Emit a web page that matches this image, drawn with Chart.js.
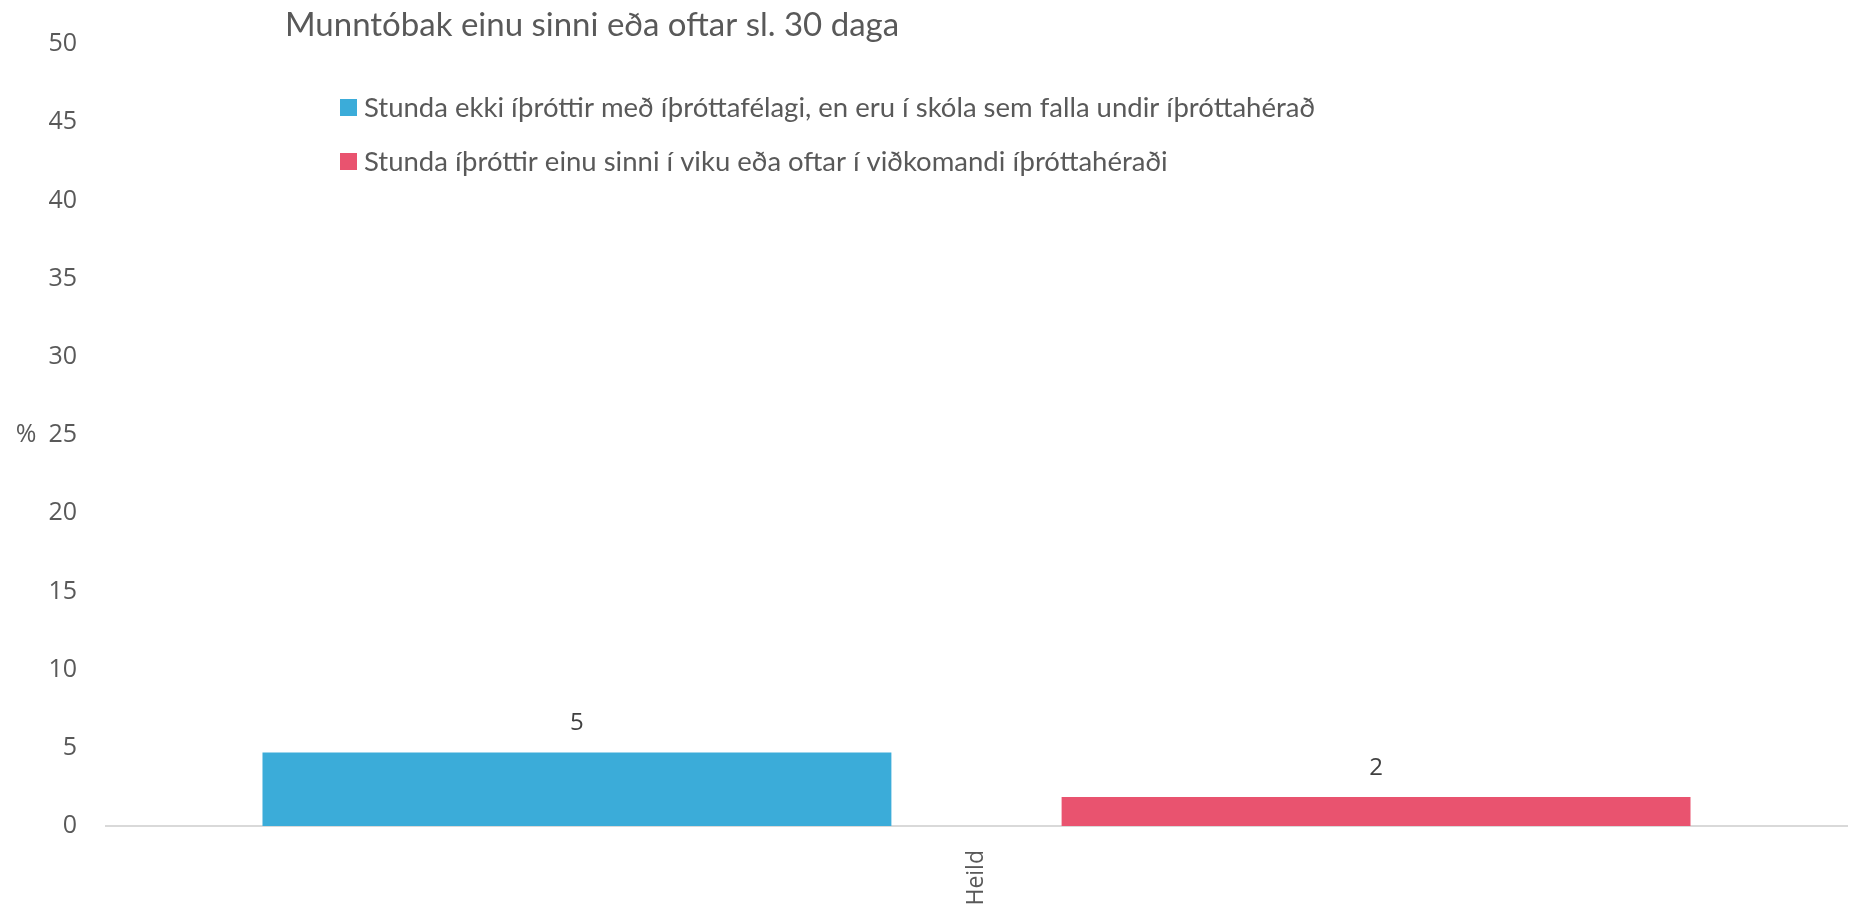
<!DOCTYPE html>
<html>
<head>
<meta charset="utf-8">
<script src="https://cdn.jsdelivr.net/npm/chart.js@4.4.1/dist/chart.umd.min.js"></script>
<style>
  html, body { margin: 0; padding: 0; background: #fff; }
</style>
</head>
<body>
<canvas id="chart" width="1851" height="909"></canvas>
<script>
// chart data
const chartTitle = 'Munntóbak einu sinni eða oftar sl. 30 daga';
const categories = ['Heild'];
const seriesNames = [
    'Stunda ekki íþróttir með íþróttafélagi, en eru í skóla sem falla undir íþróttahérað',
    'Stunda íþróttir einu sinni í viku eða oftar í viðkomandi íþróttahéraði'
];
const notSportsValues = [4.7];
const sportsValues = [1.85];
const yAxisLabel = '%';
const yMin = 0;
const yMax = 50;
const yStep = 5;

const COLORS = ['#3BACD9', '#E9536F'];
const TEXT_COLOR = '#595959';

// title, legend, "%" label and value labels are drawn by hand
const overlayPlugin = {
    id: 'overlay',
    afterDatasetsDraw(chart) {
        const ctx = chart.ctx;
        const yScale = chart.scales.y;
        ctx.save();

        // values above bars
        ctx.fillStyle = '#404040';
        ctx.font = '24px "Open Sans"';
        ctx.textAlign = 'center';
        ctx.textBaseline = 'middle';
        chart.data.datasets.forEach((ds, i) => {
            chart.getDatasetMeta(i).data.forEach((bar, j) => {
                ctx.fillText(Math.round(ds.data[j]), bar.x, bar.y - 29);
            });
        });

        // title
        ctx.fillStyle = TEXT_COLOR;
        ctx.textAlign = 'left';
        ctx.font = '33px Lato';
        ctx.fillText(chartTitle, 285, 25);

        // legend
        ctx.font = '27.5px Lato';
        chart.data.datasets.forEach((ds, i) => {
            const y = 108 + i * 54;
            ctx.fillStyle = ds.backgroundColor;
            ctx.fillRect(340, y - 9, 17, 17);
            ctx.fillStyle = TEXT_COLOR;
            ctx.fillText(ds.label, 364, y);
        });

        // y axis label
        ctx.font = '25px "Open Sans"';
        ctx.textAlign = 'center';
        ctx.fillText(yAxisLabel, 26, yScale.getPixelForValue(25));
        ctx.restore();
    }
};

function initChart() {
    const ctx = document.getElementById('chart').getContext('2d');
    new Chart(ctx, {
        type: 'bar',
        data: {
            labels: categories,
            datasets: [
                { label: seriesNames[0], data: notSportsValues, backgroundColor: COLORS[0] },
                { label: seriesNames[1], data: sportsValues, backgroundColor: COLORS[1] }
            ]
        },
        options: {
            responsive: false,
            animation: false,
            categoryPercentage: 0.918,
            barPercentage: 0.787,
            layout: { padding: { left: 0, top: 37, right: 4, bottom: 0 } },
            plugins: {
                legend: { display: false },
                title: { display: false },
                tooltip: { enabled: false }
            },
            scales: {
                x: {
                    grid: { display: false, drawTicks: false },
                    border: { display: true, color: '#D9D9D9', width: 2 },
                    ticks: {
                        minRotation: 90,
                        maxRotation: 90,
                        padding: 24,
                        color: TEXT_COLOR,
                        font: { family: '"Open Sans"', size: 23 }
                    },
                    afterFit(scale) { scale.height = 83; }
                },
                y: {
                    min: yMin,
                    max: yMax,
                    grid: { display: false, drawTicks: false },
                    border: { display: false },
                    ticks: {
                        stepSize: yStep,
                        padding: 29,
                        color: TEXT_COLOR,
                        font: { family: '"Open Sans"', size: 25 }
                    },
                    afterFit(scale) { scale.width = 106; }
                }
            }
        },
        plugins: [overlayPlugin]
    });
}

document.addEventListener('DOMContentLoaded', initChart);
</script>
</body>
</html>
